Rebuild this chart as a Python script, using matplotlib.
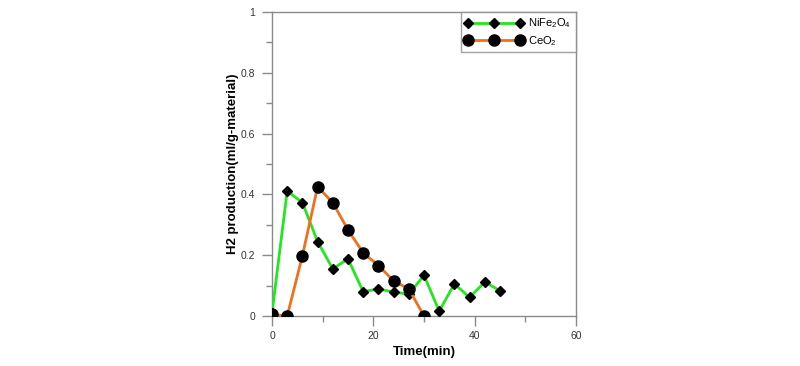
import matplotlib

matplotlib.use("Agg")
import matplotlib.pyplot as plt
from matplotlib.ticker import MultipleLocator

plt.rcParams["font.family"] = ["Liberation Sans", "DejaVu Sans"]
plt.rcParams["mathtext.fontset"] = "custom"
plt.rcParams["mathtext.rm"] = "Liberation Sans"
plt.rcParams["mathtext.default"] = "regular"

time_min = [0, 3, 6, 9, 12, 15, 18, 21, 24, 27, 30, 33, 36, 39, 42, 45]
nife2o4 = [0.01, 0.411, 0.373, 0.245, 0.155, 0.188, 0.080, 0.089, 0.079, 0.072,
           0.134, 0.016, 0.106, 0.061, 0.112, 0.083]
ceo2_time = [0, 3, 6, 9, 12, 15, 18, 21, 24, 27, 30]
ceo2 = [0.005, 0.0, 0.198, 0.425, 0.373, 0.283, 0.208, 0.166, 0.116, 0.089, 0.0]

fig = plt.figure(figsize=(8, 3.66), dpi=100)
ax = fig.add_axes([0.34, 0.1366, 0.38, 0.8306])

ax.plot(time_min, nife2o4, color="#22e61e", lw=2, marker="D", ms=5,
        mfc="black", mec="black", label="NiFe$_2$O$_4$", zorder=3)
ax.plot(ceo2_time, ceo2, color="#f0701e", lw=2, marker="o", ms=8,
        mfc="black", mec="black", label="CeO$_2$", zorder=4)

ax.set_xlim(0, 60)
ax.set_ylim(0, 1)
ax.xaxis.set_major_locator(MultipleLocator(20))
ax.xaxis.set_minor_locator(MultipleLocator(10))
ax.yaxis.set_major_locator(MultipleLocator(0.2))
ax.yaxis.set_minor_locator(MultipleLocator(0.1))
ax.yaxis.set_major_formatter(plt.FuncFormatter(lambda v, p: f"{v:g}"))

for sp in ax.spines.values():
    sp.set_color("#8a8a8a")
    sp.set_linewidth(1)
ax.tick_params(which="major", direction="out", length=7, width=1, color="#8a8a8a",
               labelsize=7.5, labelcolor="#333333")
ax.tick_params(axis="x", which="major", pad=3.5)
ax.tick_params(axis="y", which="major", pad=5)
ax.tick_params(which="minor", direction="out", length=4, width=1, color="#8a8a8a")

ax.set_xlabel("Time(min)", fontsize=9.5, fontweight="bold", labelpad=4)
ax.set_ylabel("H2 production(ml/g-material)", fontsize=9.5, fontweight="bold", labelpad=1)

leg = ax.legend(loc="upper right", numpoints=3, fontsize=8, frameon=True, fancybox=False,
                borderaxespad=0, handlelength=5.2, handletextpad=0.5, borderpad=0.4,
                labelspacing=0.35)
leg.get_frame().set_edgecolor("#8a8a8a")
leg.get_frame().set_linewidth(1)

fig.savefig("out.png", dpi=100)
